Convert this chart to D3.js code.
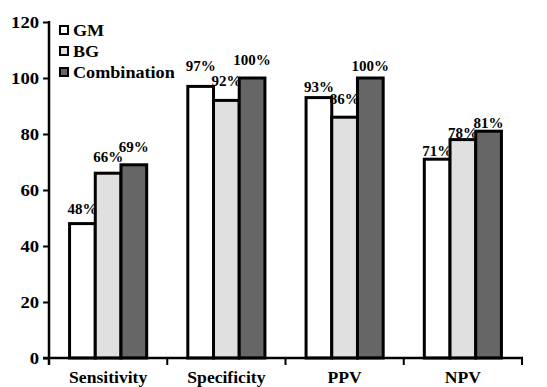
<!DOCTYPE html>
<html>
<head>
<meta charset="utf-8">
<script src="https://cdn.jsdelivr.net/npm/d3@7"></script>
<style>
  html, body { margin: 0; padding: 0; background: #fff; }
  svg { display: block; }
</style>
</head>
<body>
<svg id="chart" width="547" height="387"></svg>
<script>
// Diagnostic performance of each test
const categories = ["Sensitivity", "Specificity", "PPV", "NPV"];
const seriesNames = ["GM", "BG", "Combination"];
const gmValues = [48, 97, 93, 71];
const bgValues = [66, 92, 86, 78];
const comboValues = [69, 100, 100, 81];
const seriesColors = ["#ffffff", "#e0e0e0", "#666666"];
const yTicks = [0, 20, 40, 60, 80, 100, 120];
// gap in px between each value label's baseline and its bar top (per category, per series)
const labelGaps = [[10, 11, 13], [15, 14, 13], [6, 13, 7], [3, 2, 3]];

const seriesValues = [gmValues, bgValues, comboValues];

const svg = d3.select("#chart");
const margin = { left: 49, right: 25, top: 22, bottom: 29 };
const W = 547, H = 387;
const STRETCH = 1.1;

function serif(sel, size) {
  return sel.style("font-family", '"Liberation Serif"').style("font-weight", "bold")
    .style("font-size", size + "px").style("fill", "#000");
}

const x0 = d3.scaleBand().domain(categories)
  .range([margin.left, W - margin.right]).paddingInner(0).paddingOuter(0);
const x1 = d3.scaleBand().domain(seriesNames)
  .range([0, x0.bandwidth()]).paddingInner(0).paddingOuter(0.8);
const y = d3.scaleLinear().domain([0, 120]).range([H - margin.bottom, margin.top]);

// bars
const groups = svg.append("g").selectAll("g")
  .data(categories).join("g")
  .attr("transform", d => `translate(${x0(d)},0)`);

const cells = (c, i) => seriesNames.map((s, k) => ({ s, k, i, v: seriesValues[k][i] }));

groups.selectAll("rect")
  .data(cells)
  .join("rect")
  .attr("x", d => x1(d.s))
  .attr("y", d => y(d.v))
  .attr("width", x1.bandwidth())
  .attr("height", d => y(0) - y(d.v))
  .attr("fill", d => seriesColors[d.k])
  .attr("stroke", "#000")
  .attr("stroke-width", 3);

// value labels
groups.selectAll("text.val")
  .data(cells)
  .join("text")
  .attr("class", "val")
  .attr("x", d => x1(d.s) + x1.bandwidth() / 2)
  .attr("y", d => y(d.v) - labelGaps[d.i][d.k])
  .attr("text-anchor", "middle")
  .call(serif, 15)
  .text(d => d.v + "%");

// y axis
const yAxis = d3.axisLeft(y).tickValues(yTicks).tickSize(6).tickPadding(3).tickFormat(d3.format("d"));
const gy = svg.append("g").attr("transform", `translate(${margin.left},0)`).call(yAxis);
gy.attr("font-family", null);
gy.select(".domain").remove();
gy.selectAll(".tick line").attr("stroke", "#000").attr("stroke-width", 2);
gy.selectAll(".tick text").call(serif, 17).attr("transform", `scale(${STRETCH},1)`);
gy.append("line")
  .attr("x1", 0).attr("x2", 0)
  .attr("y1", y(120) - 1).attr("y2", y(0) + 7)
  .attr("stroke", "#000").attr("stroke-width", 2.5);

// x axis
const xAxis = d3.axisBottom(x0).tickSize(0).tickPadding(14);
const gx = svg.append("g").attr("transform", `translate(0,${y(0)})`).call(xAxis);
gx.attr("font-family", null);
gx.select(".domain").remove();
gx.selectAll(".tick text").call(serif, 16).attr("transform", `scale(${STRETCH},1)`);
gx.append("line")
  .attr("x1", margin.left - 6).attr("x2", W - margin.right + 1)
  .attr("y1", 0).attr("y2", 0)
  .attr("stroke", "#000").attr("stroke-width", 2.5);
// boundary ticks between categories
const bounds = categories.map(c => x0(c)).concat([x0(categories[categories.length - 1]) + x0.bandwidth()]);
gx.selectAll("line.bound").data(bounds).join("line")
  .attr("class", "bound")
  .attr("x1", d => d).attr("x2", d => d)
  .attr("y1", 0).attr("y2", 7)
  .attr("stroke", "#000").attr("stroke-width", 2);

// legend
const legend = svg.append("g").attr("transform", "translate(60,26)");
const li = legend.selectAll("g").data(seriesNames).join("g")
  .attr("transform", (d, i) => `translate(0,${i * 21})`);
li.append("rect")
  .attr("width", 8).attr("height", 8)
  .attr("fill", (d, i) => seriesColors[i])
  .attr("stroke", "#000").attr("stroke-width", 2);
li.append("text")
  .attr("transform", `translate(13,10) scale(${STRETCH},1)`)
  .call(serif, 16.5)
  .text(d => d);
</script>
</body>
</html>
